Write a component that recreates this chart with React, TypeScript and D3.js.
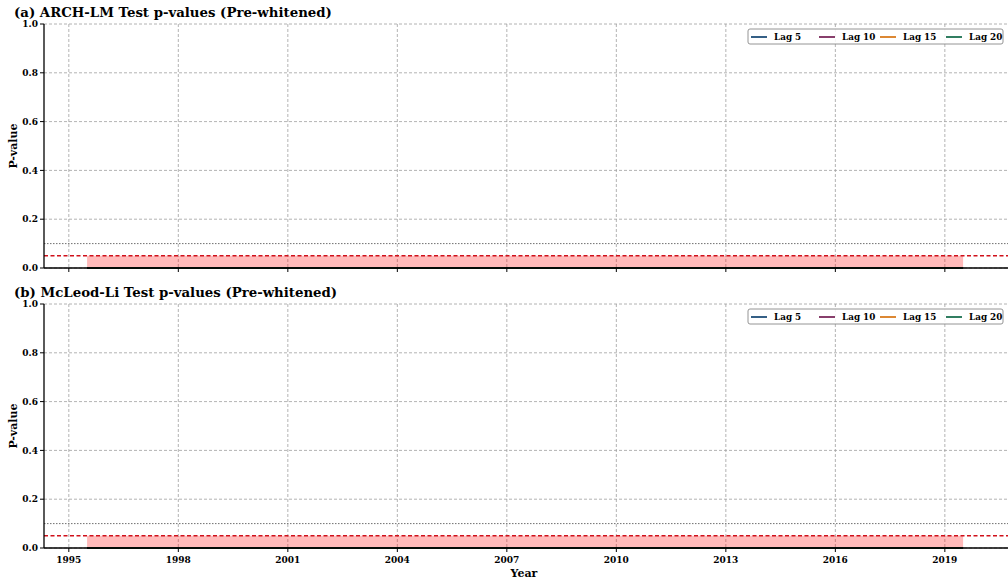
// Two-panel p-value plot (ARCH-LM and McLeod-Li), drawn with d3 scales.

import * as d3 from "d3";

// window centre dates (decimal year) and p-values per lag
const dates = [1995.5, 1997, 1999, 2001, 2003, 2005, 2007, 2009, 2011, 2013, 2015, 2017, 2019.5];
const archLag5 = [0, 0, 0, 0, 0, 0, 0, 0, 0, 0, 0, 0, 0];
const archLag10 = [0, 0, 0, 0, 0, 0, 0, 0, 0, 0, 0, 0, 0];
const archLag15 = [0, 0, 0, 0, 0, 0, 0, 0, 0, 0, 0, 0, 0];
const archLag20 = [0, 0, 0, 0, 0, 0, 0, 0, 0, 0, 0, 0, 0];
const mlLag5 = [0, 0, 0, 0, 0, 0, 0, 0, 0, 0, 0, 0, 0];
const mlLag10 = [0, 0, 0, 0, 0, 0, 0, 0, 0, 0, 0, 0, 0];
const mlLag15 = [0, 0, 0, 0, 0, 0, 0, 0, 0, 0, 0, 0, 0];
const mlLag20 = [0, 0, 0, 0, 0, 0, 0, 0, 0, 0, 0, 0, 0];

const lagNames = ["Lag 5", "Lag 10", "Lag 15", "Lag 20"];
const lagColors = ["#1f4e79", "#7b2a5c", "#d97b1e", "#1a7050"];
const xTicks = [1995, 1998, 2001, 2004, 2007, 2010, 2013, 2016, 2019];
const yTicks = [0, 0.2, 0.4, 0.6, 0.8, 1.0];
const alpha = 0.05;
const alpha10 = 0.1;

const panels = [
  { title: "(a) ARCH-LM Test p-values (Pre-whitened)", series: [archLag5, archLag10, archLag15, archLag20] },
  { title: "(b) McLeod-Li Test p-values (Pre-whitened)", series: [mlLag5, mlLag10, mlLag15, mlLag20] },
];

const serif = "'DejaVu Serif', serif";

interface PanelProps {
  title: string;
  series: number[][];
  top: number;
  bottom: number;
  showXLabels: boolean;
}

const width = 1008;
const height = 581;
const marginLeft = 44;
const scaleX = d3.scaleLinear([1994.32, 2020.73], [marginLeft, width]);

function Panel(props: PanelProps) {
  const scaleY = d3.scaleLinear([0, 1], [props.bottom, props.top]);
  const l = d3
    .line<number>()
    .x((d, i) => scaleX(dates[i]))
    .y((d) => scaleY(d));
  const area = d3
    .area<number>()
    .x((d) => scaleX(d))
    .y0(scaleY(0))
    .y1(scaleY(alpha));
  const [x0, x1] = d3.extent(dates) as [number, number];

  const legendY = props.top + 12;
  const legendX = 748;
  const legendOffsets = [0, 68, 129, 195];

  return (
    <g>
      <text x={14} y={props.top - 7} fontFamily={serif} fontWeight="bold" fontSize={13.3}>
        {props.title}
      </text>
      {/* grid */}
      <g stroke="#a0a0a0" strokeWidth={0.8} strokeDasharray="3,2">
        {xTicks.map((t) => (
          <line key={t} x1={scaleX(t)} x2={scaleX(t)} y1={props.top} y2={props.bottom} />
        ))}
        {yTicks.map((t) => (
          <line key={t} x1={marginLeft} x2={width} y1={scaleY(t)} y2={scaleY(t)} />
        ))}
      </g>
      {/* significance shading */}
      <path d={area([x0, x1]) || ""} fill="#ff0000" fillOpacity={0.27} />
      <line
        x1={marginLeft}
        x2={width}
        y1={scaleY(alpha10)}
        y2={scaleY(alpha10)}
        stroke="#707070"
        strokeWidth={1}
        strokeDasharray="1.5,1.5"
      />
      <line
        x1={marginLeft}
        x2={width}
        y1={scaleY(alpha)}
        y2={scaleY(alpha)}
        stroke="#d0101a"
        strokeWidth={1.4}
        strokeDasharray="4,2.5"
      />
      {props.series.map((s, i) => (
        <path key={i} d={l(s) || ""} fill="none" stroke={lagColors[i]} strokeWidth={1.6} />
      ))}
      <path d={l(props.series[3]) || ""} fill="none" stroke="#0d2a1e" strokeWidth={2.2} />
      {/* axes */}
      <line x1={marginLeft} x2={marginLeft} y1={props.top} y2={props.bottom} stroke="#000" strokeWidth={1.3} />
      <line x1={marginLeft} x2={width} y1={props.bottom} y2={props.bottom} stroke="#000" strokeWidth={1.3} />
      {yTicks.map((t) => (
        <g key={t}>
          <line x1={marginLeft - 4} x2={marginLeft} y1={scaleY(t)} y2={scaleY(t)} stroke="#000" />
          <text
            x={marginLeft - 6}
            y={scaleY(t)}
            dy="0.35em"
            textAnchor="end"
            fontFamily={serif}
            fontWeight="bold"
            fontSize={9}
          >
            {t.toFixed(1)}
          </text>
        </g>
      ))}
      {xTicks.map((t) => (
        <g key={t}>
          <line x1={scaleX(t)} x2={scaleX(t)} y1={props.bottom} y2={props.bottom + 4} stroke="#000" />
          {props.showXLabels && (
            <text
              x={scaleX(t)}
              y={props.bottom + 15}
              textAnchor="middle"
              fontFamily={serif}
              fontWeight="bold"
              fontSize={9}
            >
              {t}
            </text>
          )}
        </g>
      ))}
      <text
        transform={`translate(17, ${(props.top + props.bottom) / 2}) rotate(-90)`}
        textAnchor="middle"
        fontFamily={serif}
        fontWeight="bold"
        fontSize={11}
      >
        P-value
      </text>
      {/* legend */}
      <rect
        x={legendX}
        y={legendY - 7}
        width={255}
        height={15}
        rx={2}
        fill="#fff"
        fillOpacity={0.85}
        stroke="#888"
        strokeWidth={0.9}
      />
      {lagNames.map((n, i) => (
        <g key={n} transform={`translate(${legendX + 3 + legendOffsets[i]}, ${legendY + 1})`}>
          <line x1={0} x2={16} y1={0} y2={0} stroke={lagColors[i]} strokeWidth={1.8} />
          <text x={23} y={0} dy="0.35em" fontFamily={serif} fontWeight="bold" fontSize={8.8}>
            {n}
          </text>
        </g>
      ))}
    </g>
  );
}

export default function App() {
  return (
    <div style={{ position: "absolute", left: 0, top: 0 }}>
      <svg width={width} height={height} style={{ display: "block", background: "#fff" }}>
        <Panel {...panels[0]} top={24} bottom={268} showXLabels={false} />
        <Panel {...panels[1]} top={304} bottom={548} showXLabels={true} />
        <text
          x={524}
          y={577}
          textAnchor="middle"
          fontFamily={serif}
          fontWeight="bold"
          fontSize={11}
        >
          Year
        </text>
      </svg>
    </div>
  );
}
